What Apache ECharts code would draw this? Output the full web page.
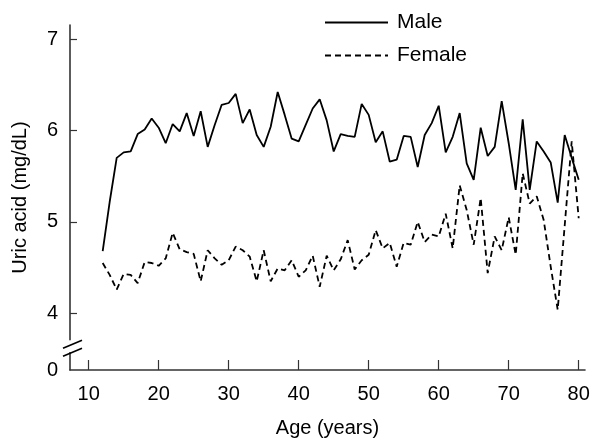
<!DOCTYPE html>
<html><head><meta charset="utf-8">
<script src="https://cdn.jsdelivr.net/npm/echarts@6/dist/echarts.min.js"></script>
<style>html,body{margin:0;padding:0;background:#fff}#c{width:606px;height:439px}</style>
</head><body><div id="c"></div>
<script>
var ages = [];
for (var a = 12; a <= 80; a++) ages.push(a);
var male = [4.68,5.22,5.70,5.76,5.77,5.96,6.01,6.13,6.03,5.86,6.07,5.99,6.19,5.94,6.21,5.82,6.06,6.28,6.30,6.40,6.08,6.23,5.95,5.82,6.04,6.42,6.17,5.91,5.88,6.06,6.24,6.34,6.11,5.77,5.96,5.94,5.93,6.29,6.17,5.87,5.99,5.66,5.68,5.94,5.93,5.60,5.95,6.08,6.27,5.76,5.93,6.19,5.64,5.46,6.03,5.72,5.82,6.32,5.86,5.35,6.12,5.35,5.88,5.77,5.65,5.21,5.95,5.70,5.46];
var female = [4.55,4.42,4.26,4.43,4.42,4.33,4.56,4.55,4.52,4.60,4.88,4.70,4.67,4.65,4.35,4.69,4.60,4.53,4.58,4.73,4.69,4.62,4.35,4.69,4.35,4.49,4.47,4.58,4.40,4.47,4.63,4.29,4.63,4.47,4.59,4.80,4.48,4.58,4.64,4.91,4.71,4.77,4.51,4.77,4.75,5.00,4.78,4.86,4.84,5.09,4.71,5.40,5.13,4.75,5.26,4.44,4.84,4.69,5.05,4.64,5.53,5.20,5.28,5.02,4.51,4.04,4.96,5.88,5.04];
var xTicks = [10,20,30,40,50,60,70,80];
var yTicks = [4,5,6,7];
var yZero = 3.38; // position where the broken axis shows "0"

function pairs(v){ return ages.map(function(a,i){ return [a, v[i]]; }); }

var chart = echarts.init(document.getElementById('c'));
var font = 'Liberation Sans, Arial, sans-serif';
chart.setOption({
  animation:false,
  backgroundColor:'#fff',
  grid:{left:70,right:21,top:25,bottom:69,outerBoundsMode:'none',containLabel:false},
  legend:{
    left:319, top:7, orient:'vertical', itemWidth:63, itemHeight:14, itemGap:12,
    itemStyle:{opacity:0},
    textStyle:{fontFamily:font, fontSize:21, color:'#000', padding:[0,0,0,4]},
    data:['Male','Female']
  },
  xAxis:{
    type:'value', min:7.33, max:80.9,
    name:'Age (years)', nameLocation:'middle', nameGap:48,
    nameTextStyle:{fontFamily:font, fontSize:20, color:'#000'},
    axisLine:{lineStyle:{color:'#333', width:1.6}},
    axisTick:{inside:true, length:10, customValues:xTicks, lineStyle:{color:'#333', width:1.2}},
    axisLabel:{customValues:xTicks, fontFamily:font, fontSize:20, color:'#000', margin:14},
    splitLine:{show:false}
  },
  yAxis:{
    type:'value', min:yZero, max:7.153,
    name:'Uric acid (mg/dL)', nameLocation:'middle', nameGap:40, nameRotate:90,
    nameTextStyle:{fontFamily:font, fontSize:20, color:'#000'},
    axisLine:{show:true, lineStyle:{color:'#333', width:1.6}},
    axisTick:{inside:true, length:7, customValues:yTicks, lineStyle:{color:'#333', width:1.2}},
    axisLabel:{customValues:[yZero].concat(yTicks), fontFamily:font, fontSize:20, color:'#000', margin:12,
      formatter:function(v){ return v < 3.9 ? '0' : String(Math.round(v)); }},
    splitLine:{show:false}
  },
  series:[
    {name:'Male', type:'line', data:pairs(male), symbol:'none', lineStyle:{color:'#000', width:1.8}, itemStyle:{color:'#000'}},
    {name:'Female', type:'line', data:pairs(female), symbol:'none', lineStyle:{color:'#000', width:1.8, type:[6,4]}, itemStyle:{color:'#000'}}
  ]
});
// axis break symbol
var p1 = chart.convertToPixel({gridIndex:0}, [7.33, 3.575]);
var p2 = chart.convertToPixel({gridIndex:0}, [7.33, 3.705]);
var px = p1[0];
chart.setOption({graphic:[
  {type:'rect', shape:{x:px-4, y:p2[1], width:8, height:p1[1]-p2[1]}, style:{fill:'#fff'}, z:100},
  {type:'line', shape:{x1:px-7, y1:p2[1]+8, x2:px+12, y2:p2[1]}, style:{stroke:'#000', lineWidth:1.6}, z:101},
  {type:'line', shape:{x1:px-7, y1:p1[1]+4, x2:px+12, y2:p1[1]-4}, style:{stroke:'#000', lineWidth:1.6}, z:101}
]});
</script></body></html>
